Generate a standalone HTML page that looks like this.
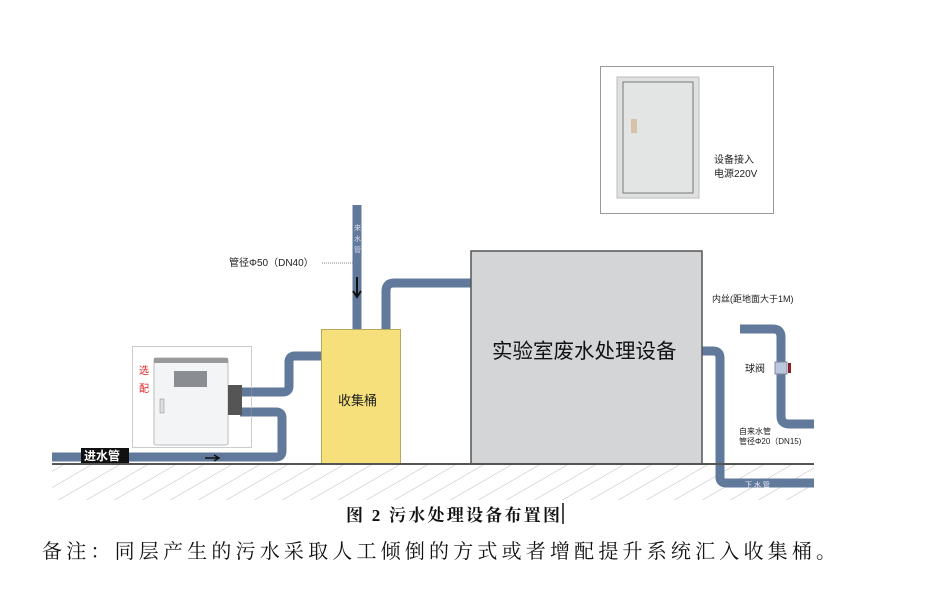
<!DOCTYPE html>
<html><head><meta charset="utf-8"><style>body{margin:0;background:#fff}svg{display:block}</style></head><body>
<svg width="929" height="593" viewBox="0 0 929 593" xmlns="http://www.w3.org/2000/svg" font-family="Liberation Sans, Noto Sans CJK SC, sans-serif">
<defs>
<pattern id="h" width="14" height="14" patternUnits="userSpaceOnUse" patternTransform="rotate(-30)">
<line x1="0" y1="0" x2="14" y2="0" stroke="#aaa" stroke-width="0.8"/>
</pattern>
</defs>
<rect x="52" y="464" width="762" height="36" fill="url(#h)"/>
<rect x="600.5" y="66.5" width="173" height="147" fill="#fff" stroke="#999"/>
<rect x="617" y="77" width="82" height="121" fill="#dfe1e0" stroke="#bbb"/>
<rect x="623" y="82" width="70" height="111" fill="#e3e5e4" stroke="#777" stroke-width="1"/>
<rect x="631" y="119" width="6" height="14" fill="#d6c2a6"/>
<text x="714" y="163" font-size="10" fill="#222">设备接入</text>
<text x="714" y="177" font-size="10" fill="#222">电源220V</text>
<g fill="none" stroke="#61799b" stroke-width="9" stroke-linejoin="round">
<path d="M52 457 H276 Q282 457 282 451 V418 Q282 412 276 412 H240"/>
<path d="M240 392 H283 Q289 392 289 386 V362 Q289 356 295 356 H321"/>
<path d="M357 205 V329"/>
<path d="M386 329 V291 Q386 283 394 283 H471"/>
<path d="M702 351 H713 Q720 351 720 358 V477 Q720 483 726 483 H814"/>
<path d="M740 329 H773 Q781 329 781 337 V416 Q781 424 789 424 H814"/>
</g>
<rect x="81" y="448" width="48" height="15" fill="#111"/>
<text x="84" y="460" font-size="12" fill="#fff" font-weight="bold">进水管</text>
<text x="354" y="230" font-size="7" fill="#dde">来</text>
<text x="354" y="241" font-size="7" fill="#dde">水</text>
<text x="354" y="252" font-size="7" fill="#dde">管</text>
<text x="745" y="487" font-size="7" fill="#eef">下 水 管</text>
<path d="M357 277 V296 M353 291 L357 297 L361 291" stroke="#111" stroke-width="2" fill="none"/>
<path d="M205 458 H218 M214 455 L219 458 L214 461" stroke="#111" stroke-width="1.5" fill="none"/>
<text x="229" y="266" font-size="10" fill="#222">管径Φ50（DN40）</text>
<line x1="322" y1="263" x2="355" y2="263" stroke="#888" stroke-dasharray="1,1"/>
<rect x="321.5" y="329.5" width="79" height="135" fill="#f6e07b" stroke="#b8a85a"/>
<text x="338" y="405" font-size="13" fill="#222">收集桶</text>
<rect x="471" y="251" width="231" height="213" fill="#d4d5d7" stroke="#555" stroke-width="1.5"/>
<text x="492" y="358" font-size="20.5" fill="#111">实验室废水处理设备</text>
<rect x="132.5" y="346.5" width="119" height="101" fill="none" stroke="#999" stroke-dasharray="1,1"/>
<text x="139" y="374" font-size="10" fill="#e02020">选</text>
<text x="139" y="392" font-size="10" fill="#e02020">配</text>
<rect x="154" y="358" width="74" height="87" rx="2" fill="#f3f4f6" stroke="#bbb"/>
<rect x="154" y="358" width="74" height="5" fill="#999"/>
<rect x="174" y="371" width="33" height="16" fill="#8a8d91"/>
<rect x="160" y="399" width="4" height="14" fill="#ddd" stroke="#999" stroke-width="0.6"/>
<rect x="228" y="385" width="14" height="30" fill="#555"/>
<rect x="775" y="362" width="12" height="12" fill="#b9c8dc" stroke="#889"/>
<rect x="788" y="363" width="3" height="10" fill="#8a2020"/>
<text x="745" y="372" font-size="10" fill="#222">球阀</text>
<text x="712" y="302" font-size="9" fill="#222">内丝(距地面大于1M)</text>
<text x="739" y="434" font-size="8" fill="#222">自来水管</text>
<text x="739" y="444" font-size="8" fill="#222">管径Φ20（DN15)</text>
<line x1="52" y1="464" x2="814" y2="464" stroke="#555" stroke-width="2"/>
<text x="346" y="521" font-size="17" font-weight="bold" font-family="Liberation Serif, Noto Serif CJK SC, serif" fill="#111" textLength="214" lengthAdjust="spacing">图 2 污水处理设备布置图</text>
<line x1="563" y1="503" x2="563" y2="524" stroke="#111" stroke-width="1.5"/>
<text x="42" y="558" font-size="20" font-family="Liberation Serif, Noto Serif CJK SC, serif" fill="#111" textLength="794" lengthAdjust="spacing">备注：同层产生的污水采取人工倾倒的方式或者增配提升系统汇入收集桶。</text>
</svg>
</body></html>
